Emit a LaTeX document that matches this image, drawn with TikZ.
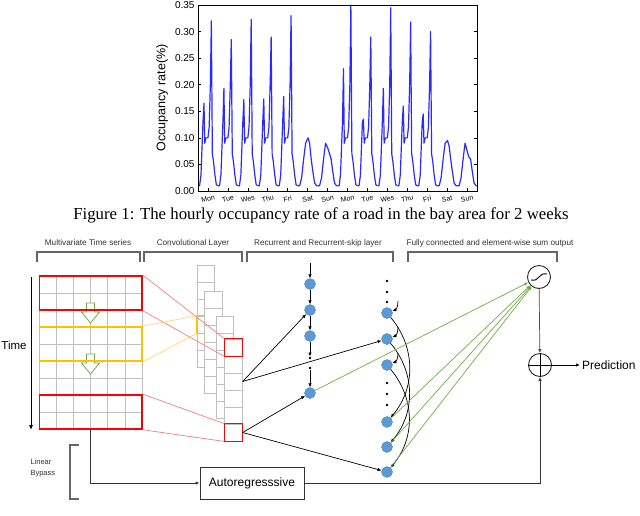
\documentclass[tikz,border=0pt]{standalone}
\usepackage{fontspec}
\setmainfont{Liberation Serif}
\setsansfont{Liberation Sans}
\usetikzlibrary{positioning,arrows.meta}
\definecolor{unitblue}{HTML}{5B9BD5}
\definecolor{fcgreen}{HTML}{70AD47}
\definecolor{winred}{HTML}{FF0000}
\definecolor{winorange}{HTML}{FFC000}
\definecolor{lightred}{HTML}{FF7C80}
\definecolor{lightorange}{HTML}{FFD966}
\definecolor{cellgray}{HTML}{BFBFBF}
\definecolor{curveblue}{HTML}{2A2AFF}
\begin{document}
\begin{tikzpicture}[x=1pt,y=-1pt,
    unit/.style={circle,fill=unitblue,draw=unitblue!75!black,line width=0.3pt,minimum size=11pt,inner sep=0pt},
    bead/.style={circle,fill=black,minimum size=2.6pt,inner sep=0pt},
    cell/.style={rectangle,draw=cellgray,fill=white,line width=0.8pt,minimum width=17.5pt,minimum height=17pt,inner sep=0pt},
    window/.style={rectangle,draw=#1,line width=1.6pt,minimum width=102.6pt,minimum height=34pt,inner sep=0pt},
    head/.style={font=\sffamily\fontsize{8.2}{9}\selectfont,text=black!80},
    bracket/.style={draw=black!60,line width=1.3pt},
    op/.style={circle,draw=black!85,line width=0.9pt,minimum size=23pt,inner sep=0pt},
    link/.style={-{Latex[length=4pt,width=3.4pt]},line width=0.7pt},
    feed/.style={link,fcgreen}]
\useasboundingbox (0,0) rectangle (640,515);

\begin{scope}[xshift=198pt,yshift=-191pt,x=19.93pt,y=531.4pt]
    \foreach \d/\m/\e in {0/0.165/0.32,1/0.193/0.285,2/0.172/0.323,3/0.173/0.29,4/0.178/0.33,
                          7/0.23/0.35,8/0.135/0.29,9/0.193/0.345,10/0.16/0.318,11/0.145/0.30}
        \draw[curveblue,line width=1.2pt,line join=round]
            (\d,0.01) -- (\d+0.08,0.01) -- (\d+0.15,0.03) -- (\d+0.2,0.08) -- (\d+0.25,0.13)
            -- (\d+0.3,\m) -- (\d+0.34,0.09) -- (\d+0.4,0.1) -- (\d+0.5,0.1) -- (\d+0.56,0.12)
            -- (\d+0.62,0.2) -- (\d+0.67,\e) -- (\d+0.72,0.07) -- (\d+0.78,0.055) -- (\d+0.85,0.03)
            -- (\d+0.92,0.012) -- (\d+1,0.01);
    \foreach \d/\h in {5/0.10,6/0.08,12/0.095,13/0.073}
        \draw[curveblue,line width=1.2pt,line join=round]
            (\d,0.01) -- (\d+0.1,0.01) -- (\d+0.2,0.025) -- (\d+0.3,0.06) -- (\d+0.4,0.09)
            -- (\d+0.52,\h) -- (\d+0.6,\h-0.01) -- (\d+0.68,0.06) -- (\d+0.75,0.04)
            -- (\d+0.85,0.015) -- (\d+0.95,0.01) -- (\d+1,0.01);
    \draw[line width=0.8pt] (0,0) rectangle (14,0.35);
    \foreach \v in {0.00,0.05,0.10,0.15,0.20,0.25,0.30,0.35}{
        \draw[line width=0.6pt] (0,\v) -- ++(3pt,0) (14,\v) -- ++(-3pt,0);
        \node[left,font=\sffamily\fontsize{10}{11}\selectfont] at (0,\v) {\v};
    }
    \foreach \day [count=\k from 0] in {Mon,Tue,Wes,Thu,Fri,Sat,Sun,Mon,Tue,Wes,Thu,Fri,Sat,Sun}{
        \draw[line width=0.6pt] (\k+0.5,0) -- ++(0,3pt);
        \node[font=\sffamily\fontsize{7}{8}\selectfont,rotate=12,inner sep=1pt] at (\k+0.5,-0.0145) {\day};
    }
    \node[rotate=90,font=\sffamily\fontsize{12.5}{14}\selectfont] (ylab) at (-1.8,0.175) {Occupancy rate(\%)};
\end{scope}

\node[font=\fontsize{16.8}{19}\selectfont,inner sep=1pt] (cap) at (321,215)
    {Figure 1: The hourly occupancy rate of a road in the bay area for 2 weeks};

\node[head] (h1) at (88,243) {Multivariate Time series};
\node[head] (h2) at (193,243) {Convolutional Layer};
\node[head] (h3) at (318,243) {Recurrent and Recurrent-skip layer};
\node[head] (h4) at (490,243) {Fully connected and element-wise sum output};
\draw[bracket] (37,262) |- (140,252) -- (140,262);
\draw[bracket] (144,262) |- (242,252) -- (242,262);
\draw[bracket] (247,262) |- (393,252) -- (393,262);
\draw[bracket] (408,262) |- (557,252) -- (557,262);

\foreach \r in {0,...,9}
    \draw[cellgray,line width=0.9pt] (39.5,276+17*\r) -- (142.1,276+17*\r);
\foreach \c in {0,...,6}
    \draw[cellgray,line width=0.9pt] (39.5+17.1*\c,276) -- (39.5+17.1*\c,429);
\foreach \y in {303,354}
    \draw[fcgreen,fill=white,line width=0.8pt] (86.5,\y) -- (94.5,\y) -- (94.5,\y+9) -- (99.5,\y+9)
        -- (90.5,\y+20) -- (81.5,\y+9) -- (86.5,\y+9) -- cycle;
\node[window=winred] (w1) at (90.8,293) {};
\node[window=winorange] (w2) at (90.8,344) {};
\node[window=winred] (w3) at (90.8,412) {};

\coordinate (t0) at (31,277);
\coordinate (t1) at (31,430);
\draw[-{Latex[length=5pt,width=4pt]},line width=0.8pt] (t0) -- (t1);
\node[font=\sffamily\fontsize{11.5}{13}\selectfont] (time) at (14,345) {Time};

\foreach \i in {1,...,6}
    \node[cell] (a\i) at (206,265+17*\i-8.5) {};
\draw[winorange,line width=1.6pt] (a4.north west) rectangle (a4.south east);
\foreach \s/\x/\y in {b/213.5/291,c/225/316,d/233.5/339}
    \foreach \i in {1,...,6}
        \node[cell] (\s\i) at (\x,\y+17*\i-8.5) {};
\draw[winred,line width=1.6pt] (d1.north west) rectangle (d1.south east);
\draw[winred,line width=1.6pt] (d6.north west) rectangle (d6.south east);

\draw[lightred,line width=0.7pt] (w1.north east) -- (d1.north west) (w1.south east) -- (d1.south west);
\draw[lightorange,line width=0.7pt] (w2.north east) -- (a4.north west) (w2.south east) -- (a4.south west);
\draw[lightred,line width=0.7pt] (w3.north east) -- (d6.north west) (w3.south east) -- (d6.south west);

\node[unit] (r1) at (310,284) {};
\node[unit] (r2) at (310,310) {};
\node[unit] (r3) at (310,336) {};
\node[bead] (rd1) at (310,358) {};
\node[bead] (rd2) at (310,368) {};
\node[unit] (r4) at (310,393) {};
\coordinate (r0) at (310,263);
\draw[link] (r0) -- (r1);
\draw[link] (r1) -- (r2);
\draw[link] (r2) -- (r3);
\draw[link] (r3) -- (rd1);
\draw[link] (rd2) -- (r4);

\foreach \n/\y in {sd1/281,sd2/292,sd3/302,sd4/383,sd5/394,sd6/405}
    \node[bead] (\n) at (387,\y) {};
\foreach \n/\y in {s1/313,s2/339,s3/365,s4/422,s5/447,s6/472}
    \node[unit] (\n) at (387,\y) {};
\foreach \k/\y in {1/301,2/327,3/353}{
    \coordinate (sk\k) at (398,\y);
    \draw[link] (sk\k) to[out=-90,in=20] (s\k);
}
\draw[link] (s1) to[out=-50,in=50] (s4);
\draw[link] (s2) to[out=-50,in=50] (s5);
\draw[link] (s3) to[out=-50,in=50] (s6);

\draw[link] (d3.east) -- (r2);
\draw[link] (d3.east) -- (s2);
\draw[link] (d6.east) -- (r4);
\draw[link] (d6.east) -- (s6);

\node[op] (sig) at (539,277) {};
\draw[line width=0.9pt] ([shift={(-8pt,-3pt)}]sig.center) .. controls ([shift={(1pt,-5pt)}]sig.center)
    and ([shift={(-1pt,5pt)}]sig.center) .. ([shift={(8pt,3pt)}]sig.center);
\node[op] (sum) at (540,365) {};
\draw[line width=0.9pt] (sum.north) -- (sum.south) (sum.west) -- (sum.east);
\draw[link,black!70] (sig) -- (sum);
\node[anchor=west,inner sep=2pt,font=\sffamily\fontsize{12}{14}\selectfont] (pred) at (580,365) {Prediction};
\draw[link] (sum) -- (pred);
\foreach \n in {r4,s4,s5,s6}
    \draw[feed] (\n) -- (sig);

\node[draw=black!80,line width=1pt,minimum width=104pt,minimum height=32pt,
      font=\sffamily\fontsize{12}{14}\selectfont] (ar) at (252,483) {Autoregresssive};
\draw[link,black!80] (w3.south) |- (ar);
\draw[link,black!80] (ar) -| (sum);

\draw[bracket] (79,445) -| (70,499) -- (79,499);
\node[align=left,anchor=west,font=\sffamily\fontsize{7.5}{11}\selectfont,text=black!80] (bypass) at (27,468) {Linear\\Bypass};
\end{tikzpicture}
\end{document}
